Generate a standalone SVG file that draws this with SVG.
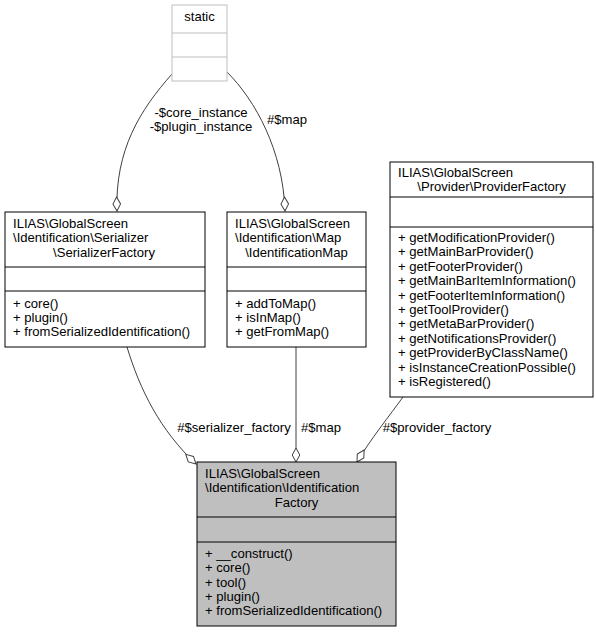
<svg xmlns="http://www.w3.org/2000/svg" width="596" height="632" viewBox="0 0 596 632">
<style>
text{font-family:"Liberation Sans",Arial,Helvetica,sans-serif;font-size:13.1px;fill:#000}
.box{fill:#fff;stroke:#000;stroke-width:1}
.main{fill:#bfbfbf;stroke:#000;stroke-width:1}
.sbox{fill:#fff;stroke:#bfbfbf;stroke-width:1}
.edge{fill:none;stroke:#404040;stroke-width:1}
.m{text-anchor:middle}
</style>
<defs>
<marker id="dia" markerUnits="userSpaceOnUse" markerWidth="16" markerHeight="10" viewBox="-1 -5 16 10" refX="14" refY="0" orient="auto">
<path d="M0,0 L7,-3.8 L14,0 L7,3.8 Z" fill="#fff" stroke="#404040" stroke-width="1"/>
</marker>
</defs>
<g id="connectors">
<path class="edge" d="M172,74 C140,110 115,150 117,211" marker-end="url(#dia)"/>
<text class="m" x="201" y="117">-$core_instance</text>
<text class="m" x="201" y="131">-$plugin_instance</text>
<path class="edge" d="M227,72 C255,100 283,150 285,211" marker-end="url(#dia)"/>
<text class="m" x="287" y="124">#$map</text>
<path class="edge" d="M127,347 C140,390 160,430 196,464" marker-end="url(#dia)"/>
<text class="m" x="234" y="432">#$serializer_factory</text>
<path class="edge" d="M296,347 L296,462" marker-end="url(#dia)"/>
<text class="m" x="321" y="432">#$map</text>
<path class="edge" d="M403,397 C390,415 370,440 357,462" marker-end="url(#dia)"/>
<text class="m" x="437" y="432">#$provider_factory</text>
</g>
<g id="static">
<rect class="sbox" x="172" y="5" width="55" height="76"/>
<line x1="172" y1="33" x2="227" y2="33" stroke="#bfbfbf"/>
<line x1="172" y1="57" x2="227" y2="57" stroke="#bfbfbf"/>
<text class="m" x="199.5" y="21">static</text>
</g>
<g id="SerializerFactory">
<rect class="box" x="5" y="212" width="200" height="135"/>
<line x1="5" y1="267" x2="205" y2="267" stroke="#000"/>
<line x1="5" y1="291" x2="205" y2="291" stroke="#000"/>
<text x="13" y="228">ILIAS\GlobalScreen</text>
<text x="13" y="242.3">\Identification\Serializer</text>
<text class="m" x="104" y="256.6">\SerializerFactory</text>
<text x="13" y="307.5">+ core()</text>
<text x="13" y="321.8">+ plugin()</text>
<text x="13" y="336.1">+ fromSerializedIdentification()</text>
</g>
<g id="IdentificationMap">
<rect class="box" x="227" y="212" width="139" height="135"/>
<line x1="227" y1="267" x2="366" y2="267" stroke="#000"/>
<line x1="227" y1="291" x2="366" y2="291" stroke="#000"/>
<text x="235" y="228">ILIAS\GlobalScreen</text>
<text x="235" y="242.3">\Identification\Map</text>
<text class="m" x="296.5" y="256.6">\IdentificationMap</text>
<text x="235" y="307.5">+ addToMap()</text>
<text x="235" y="321.8">+ isInMap()</text>
<text x="235" y="336.1">+ getFromMap()</text>
</g>
<g id="ProviderFactory">
<rect class="box" x="390" y="162" width="203" height="235"/>
<line x1="390" y1="197" x2="593" y2="197" stroke="#000"/>
<line x1="390" y1="227" x2="593" y2="227" stroke="#000"/>
<text x="398" y="177">ILIAS\GlobalScreen</text>
<text class="m" x="491.5" y="191.3">\Provider\ProviderFactory</text>
<text x="398" y="242">+ getModificationProvider()</text>
<text x="398" y="256.4">+ getMainBarProvider()</text>
<text x="398" y="270.8">+ getFooterProvider()</text>
<text x="398" y="285.2">+ getMainBarItemInformation()</text>
<text x="398" y="299.6">+ getFooterItemInformation()</text>
<text x="398" y="314">+ getToolProvider()</text>
<text x="398" y="328.4">+ getMetaBarProvider()</text>
<text x="398" y="342.8">+ getNotificationsProvider()</text>
<text x="398" y="357.2">+ getProviderByClassName()</text>
<text x="398" y="371.6">+ isInstanceCreationPossible()</text>
<text x="398" y="386">+ isRegistered()</text>
</g>
<g id="IdentificationFactory">
<rect class="main" x="197" y="462" width="199" height="164"/>
<line x1="197" y1="517" x2="396" y2="517" stroke="#000"/>
<line x1="197" y1="542" x2="396" y2="542" stroke="#000"/>
<text x="205" y="478">ILIAS\GlobalScreen</text>
<text x="205" y="492.3">\Identification\Identification</text>
<text class="m" x="296.5" y="506.6">Factory</text>
<text x="205" y="558">+ __construct()</text>
<text x="205" y="572.3">+ core()</text>
<text x="205" y="586.6">+ tool()</text>
<text x="205" y="600.9">+ plugin()</text>
<text x="205" y="615.2">+ fromSerializedIdentification()</text>
</g>
</svg>
